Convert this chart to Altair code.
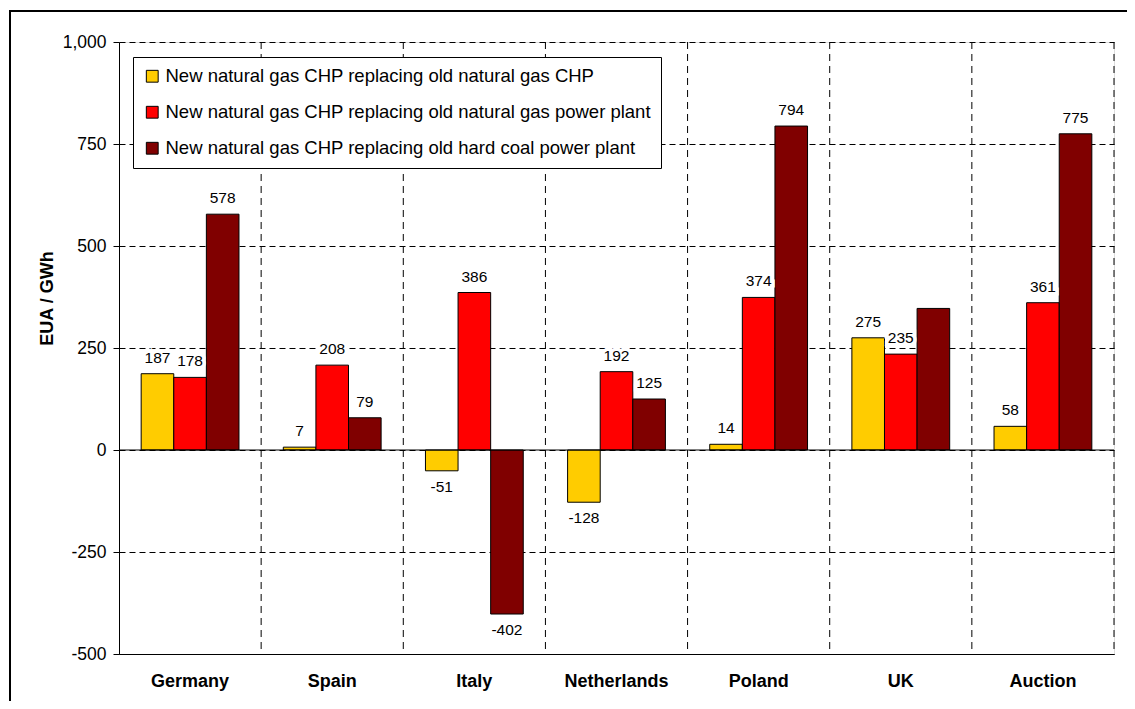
import altair as alt
import pandas as pd

countries = ["Germany", "Spain", "Italy", "Netherlands", "Poland", "UK", "Auction"]
series = [
    "New natural gas CHP replacing old natural gas CHP",
    "New natural gas CHP replacing old natural gas power plant",
    "New natural gas CHP replacing old hard coal power plant",
]
chp = [187, 7, -51, -128, 14, 275, 58]
gas_plant = [178, 208, 386, 192, 374, 235, 361]
coal_plant = [578, 79, -402, 125, 794, 347, 775]
coal_labelled = [True, True, True, True, True, False, True]
colors = ["#FFCC00", "#FF0000", "#800000"]
boundaries = [1, 2, 3, 4, 5, 6, 7]
y_ticks = [-500, -250, 0, 250, 500, 750, 1000]

rows = []
for i, c in enumerate(countries):
    for s, vals, lab in [
        (series[0], chp, [True] * 7),
        (series[1], gas_plant, [True] * 7),
        (series[2], coal_plant, coal_labelled),
    ]:
        rows.append({"country": c, "series": s, "value": vals[i], "show": lab[i],
                     "label": str(vals[i])})
df = pd.DataFrame(rows)
df_pos = df[(df["show"]) & (df["value"] >= 0)]
df_neg = df[(df["show"]) & (df["value"] < 0)]

FONT = "Liberation Sans"

x_scale = alt.Scale(domain=countries, paddingInner=0, paddingOuter=0)
x_enc = alt.X(
    "country:N", sort=countries, scale=x_scale,
    axis=alt.Axis(title=None, labelFontSize=18, labelFontWeight="bold", labelAngle=0,
                  ticks=False, tickSize=0, domainColor="black", domainWidth=1,
                  labelPadding=18, labelColor="black", grid=False, labelFont=FONT),
)
x_enc_noaxis = alt.X("country:N", sort=countries, scale=x_scale, axis=None)
xoff = alt.XOffset("series:N", sort=series,
                   scale=alt.Scale(domain=series, paddingOuter=0.68, paddingInner=0))
y_scale = alt.Scale(domain=[-500, 1000], nice=False)

frame = alt.Chart(alt.Data(values=[{"a": 1}])).mark_rect(
    fill="white", fillOpacity=0, stroke="black", strokeWidth=2
).encode(x=alt.value(-109), x2=alt.value(1400), y=alt.value(-31), y2=alt.value(900))

vgrid = alt.Chart(pd.DataFrame({"b": boundaries})).mark_rule(
    color="black", strokeWidth=1, strokeDash=[7, 5]
).encode(x=alt.X("b:Q", scale=alt.Scale(domain=[0, 7], nice=False, zero=False), axis=None))

bars = alt.Chart(df).mark_bar(stroke="black", strokeWidth=1).encode(
    x=x_enc,
    xOffset=xoff,
    y=alt.Y("value:Q", scale=y_scale,
            axis=alt.Axis(values=y_ticks,
                          labelExpr="(datum.value < 0 ? '-' : '') + format(abs(datum.value), ',.0f')",
                          title="EUA / GWh",
                          titleFontSize=18, titleFontWeight="bold", titleColor="black",
                          titleX=-72, titleY=256, titleAngle=270, titleAlign="center",
                          titleBaseline="middle", titleFont=FONT,
                          grid=True, gridDash=[6, 4], gridColor="black", gridOpacity=1,
                          domainColor="black", tickColor="black", tickSize=6,
                          labelFontSize=17.5, labelColor="black", labelPadding=7,
                          labelFont=FONT)),
    color=alt.Color("series:N", sort=series,
                    scale=alt.Scale(domain=series, range=colors),
                    legend=alt.Legend(title=None, orient="none", legendX=14, legendY=15,
                                      strokeColor="black", fillColor="white", padding=10,
                                      rowPadding=17, labelFontSize=18.5, labelColor="black",
                                      labelFont=FONT, labelLimit=0, symbolType="square",
                                      symbolSize=140, symbolStrokeColor="black",
                                      symbolStrokeWidth=1, symbolOpacity=1, labelOffset=4)),
)

zero = alt.Chart(alt.Data(values=[{"a": 1}])).mark_rule(color="black", strokeWidth=1).encode(
    y=alt.datum(0, scale=y_scale)
)


def labels(data, dy, halo):
    kw = dict(dy=dy, baseline="middle", fontSize=15.5, font=FONT)
    if halo:
        kw.update(color="white", stroke="white", strokeWidth=7, strokeJoin="miter")
    else:
        kw.update(color="black")
    return alt.Chart(data).mark_text(**kw).encode(
        x=x_enc_noaxis, xOffset=xoff, y=alt.Y("value:Q", scale=y_scale),
        text=alt.Text("label:N"))


chart = alt.layer(
    frame, vgrid, bars, zero,
    labels(df_pos, -16, True), labels(df_neg, 16, True),
    labels(df_pos, -16, False), labels(df_neg, 16, False),
).resolve_scale(
    x="independent"
).properties(
    width=995, height=612,
    autosize=alt.AutoSizeParams(type="none"),
    padding={"left": 111, "top": 34, "right": 13, "bottom": 47},
    background="white",
).configure_view(stroke=None).configure(font=FONT)

chart.save("out.html", embed_options={"renderer": "svg", "actions": False})
